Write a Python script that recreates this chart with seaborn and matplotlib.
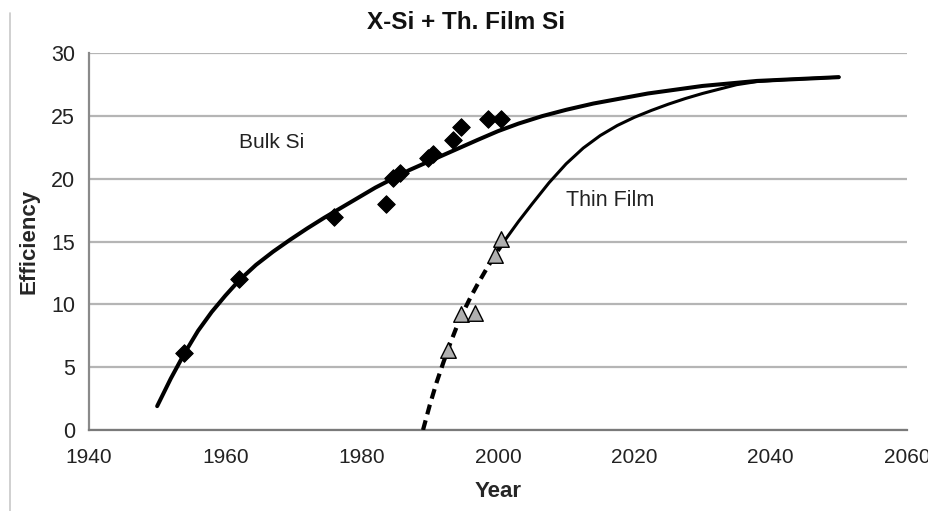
import matplotlib
matplotlib.use("Agg")
import matplotlib.pyplot as plt
import seaborn as sns
from matplotlib.lines import Line2D

# measured points
bulk_years = [1954, 1962, 1976, 1983.5, 1984.6, 1985.6, 1989.8, 1990.5, 1993.4, 1994.6, 1998.5, 2000.5]
bulk_eff = [6.1, 12.0, 17.0, 18.0, 20.1, 20.5, 21.7, 22.0, 23.1, 24.1, 24.8, 24.8]

thin_years = [1992.6, 1994.6, 1996.6, 1999.5, 2000.5]
thin_eff = [6.4, 9.2, 9.3, 13.9, 15.2]

# trend curves
bulk_curve_years = [1950, 1952, 1954, 1956, 1958, 1960, 1962, 1964.5, 1967, 1969.5, 1972,
                    1974.5, 1977, 1979.5, 1982, 1984.5, 1987, 1989.5, 1992, 1994.5, 1997,
                    2000, 2003, 2006.5, 2010, 2014, 2018, 2022, 2026, 2030, 2034, 2038,
                    2042, 2046, 2050]
bulk_curve_eff = [1.9, 4.1, 6.1, 7.9, 9.4, 10.7, 11.9, 13.15, 14.2, 15.15, 16.05,
                  16.9, 17.7, 18.5, 19.3, 20.0, 20.7, 21.3, 21.9, 22.5, 23.1,
                  23.8, 24.4, 25.0, 25.5, 26.0, 26.4, 26.8, 27.1, 27.4, 27.6, 27.8,
                  27.9, 28.0, 28.1]

thin_dash_years = [1989, 1990, 1991, 1992, 1993, 1994, 1995, 1996, 1997, 1998.5, 2000, 2001]
thin_dash_eff = [0.0, 2.0, 3.8, 5.4, 6.9, 8.3, 9.5, 10.6, 11.6, 13.0, 14.3, 15.1]

thin_solid_years = [2001, 2003, 2005, 2007.5, 2010, 2012.5, 2015, 2017.5, 2020, 2022.5,
                    2025, 2027.5, 2030, 2032.5, 2035, 2038, 2042, 2046, 2050]
thin_solid_eff = [15.1, 16.6, 18.0, 19.7, 21.2, 22.45, 23.45, 24.25, 24.9, 25.45,
                  25.95, 26.4, 26.8, 27.15, 27.5, 27.75, 27.9, 28.0, 28.1]

sns.set_style("white")
plt.rcParams['font.family'] = ['Liberation Sans', 'DejaVu Sans']

fig = plt.figure(figsize=(9.29, 5.11), dpi=100)
ax = fig.add_axes([0.0958, 0.1585, 0.8805, 0.7372])

sns.lineplot(x=thin_dash_years, y=thin_dash_eff, ax=ax, color='black', lw=3.0,
             estimator=None, sort=False, zorder=3)
ax.lines[-1].set_dashes([2.4, 1.5])
sns.lineplot(x=thin_solid_years, y=thin_solid_eff, ax=ax, color='black', lw=2.2,
             estimator=None, sort=False, zorder=3)
sns.lineplot(x=bulk_curve_years, y=bulk_curve_eff, ax=ax, color='black', lw=2.9,
             estimator=None, sort=False, zorder=3)
ax.lines[-1].set_solid_capstyle('round')
ax.lines[-1].set_solid_joinstyle('round')
ax.lines[-2].set_solid_joinstyle('round')

sns.scatterplot(x=bulk_years, y=bulk_eff, ax=ax, marker='D', s=80, color='black',
                edgecolor='black', zorder=4)
sns.scatterplot(x=thin_years, y=thin_eff, ax=ax, marker='^', s=125, color='#b0b0b0',
                edgecolor='black', linewidth=1.0, zorder=4)

ax.set_xlim(1940, 2060)
ax.set_ylim(0, 30)
ax.set_xticks(range(1940, 2061, 20))
ax.set_yticks(range(0, 31, 5))
ax.yaxis.grid(True, color='#b5b5b5', lw=1.6)
ax.set_axisbelow(True)

for s in ['top', 'right']:
    ax.spines[s].set_visible(False)
ax.spines['left'].set_color('#8a8a8a')
ax.spines['left'].set_linewidth(1.6)
ax.spines['bottom'].set_color('#7a7a7a')
ax.spines['bottom'].set_linewidth(1.6)
ax.tick_params(axis='both', direction='out', length=6, width=1.2, color='#8a8a8a',
               labelsize=15, labelcolor='#222222', pad=7)
ax.tick_params(axis='y', pad=4, labelsize=15.5)

ax.set_xlabel('Year', fontsize=16, fontweight='bold', labelpad=10)
ax.set_ylabel('Efficiency', fontsize=16, fontweight='bold', labelpad=8)
fig.text(0.502, 0.955, 'X-Si + Th. Film Si', ha='center', va='center',
         fontsize=17.5, fontweight='bold', color='#111111')

ax.text(1966.8, 22.9, 'Bulk Si', ha='center', va='center', fontsize=15, color='#222222')
ax.text(2016.4, 18.3, 'Thin Film', ha='center', va='center', fontsize=15.5, color='#222222')

fig.add_artist(Line2D([0.011, 0.011], [0.0, 0.975], transform=fig.transFigure,
                      color='#c8c8c8', lw=1.2))

fig.savefig('out.png', dpi=100)
